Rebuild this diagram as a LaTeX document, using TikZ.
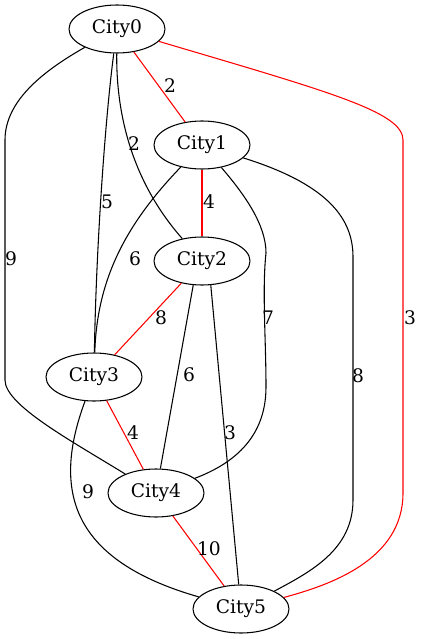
\documentclass[tikz,border=0pt]{standalone}
\usepackage{fontspec}
\setmainfont{DejaVu Serif}
\usetikzlibrary{shapes.geometric}

\begin{document}
\begin{tikzpicture}[x = .75pt, y = -.75pt,
  city/.style = {draw, ellipse, minimum width = 72pt, minimum height = 36pt,
    inner sep = 0pt, font = \fontsize{14}{16}\selectfont},
  cost/.style = {font = \fontsize{14}{16}\selectfont, inner sep = 0pt},
  mst/.style = {red},
  every path/.style = {line width = .8pt}]
  \useasboundingbox (0, 0) rectangle (423, 639);

  \node[city] (c0) at (117, 29) {City0};
  \node[city] (c1) at (202, 145) {City1};
  \node[city] (c2) at (202, 261) {City2};
  \node[city] (c3) at (94, 377) {City3};
  \node[city] (c4) at (156, 493) {City4};
  \node[city] (c5) at (241, 609) {City5};

  % edges from City0
  \draw[mst] (c0) -- (c1);
  \draw (c0) .. controls (116, 120) and (135, 185) .. (c2);
  \draw (c0) .. controls (105, 120) and (96, 250) .. (c3);
  \draw (c0) .. controls (45, 70) and (5, 100) .. (5, 140) -- (5, 380)
    .. controls (5, 405) and (70, 440) .. (c4);
  \draw[mst] (c0) .. controls (330, 92) and (403, 112) .. (403, 140) --
    (403, 493) .. controls (403, 560) and (330, 585) .. (c5);

  % edges from City1
  \draw[mst] (c1) -- (c2);
  \draw (c1) .. controls (125, 225) and (97, 280) .. (c3);
  \draw (c1) .. controls (245, 195) and (266, 225) .. (266, 253)
    .. controls (262, 290) and (266, 340) .. (266, 387)
    .. controls (266, 440) and (230, 465) .. (c4);
  \draw (c1) .. controls (330, 185) and (353, 220) .. (353, 257) --
    (353, 500) .. controls (353, 550) and (310, 572) .. (c5);

  % the rest
  \draw[mst] (c2) -- (c3);
  \draw (c2.250) -- (c4);
  \draw (c2.290) -- (c5);
  \draw[mst] (c3) -- (c4);
  \draw (c3) .. controls (52, 490) and (70, 560) .. (c5);
  \draw[mst] (c4) -- (c5);

  % costs
  \node[cost] (w01) at (170, 86) {2};
  \node[cost] (w02) at (134, 144) {2};
  \node[cost] (w03) at (107, 202) {5};
  \node[cost] (w04) at (11, 259) {9};
  \node[cost] (w05) at (410, 318) {3};
  \node[cost] (w12) at (209, 202) {4};
  \node[cost] (w13) at (135, 259) {6};
  \node[cost] (w14) at (268, 318) {7};
  \node[cost] (w15) at (358, 376) {8};
  \node[cost] (w23) at (161, 318) {8};
  \node[cost] (w24) at (189, 375) {6};
  \node[cost] (w25) at (230, 433) {3};
  \node[cost] (w34) at (133, 433) {4};
  \node[cost] (w35) at (88, 492) {9};
  \node[cost] (w45) at (209, 549) {10};
\end{tikzpicture}
\end{document}
